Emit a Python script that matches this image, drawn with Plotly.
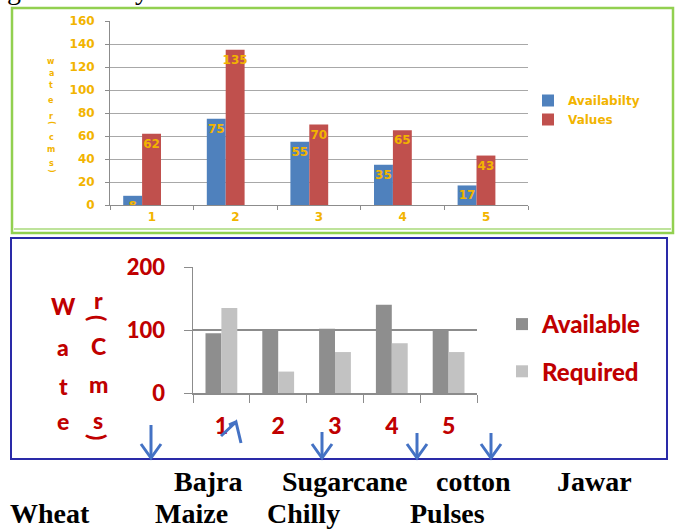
import plotly.graph_objects as go

W, H = 683, 532


def px(x):
    return x / W


def py(y):
    return 1 - y / H


# ---------------- data ----------------
top_categories = ["1", "2", "3", "4", "5"]
top_availability = [8, 75, 55, 35, 17]
top_values = [62, 135, 70, 65, 43]
top_series_names = ["Availabilty", "Values"]
top_yticks = [0, 20, 40, 60, 80, 100, 120, 140, 160]

bottom_categories = ["1", "2", "3", "4", "5"]
bottom_available = [95, 100, 102, 140, 100]
bottom_required = [135, 34, 65, 79, 65]
bottom_series_names = ["Available", "Required"]
bottom_yticks = [0, 100, 200]

crop_row1 = ["Bajra", "Sugarcane", "cotton", "Jawar"]
crop_row2 = ["Wheat", "Maize", "Chilly", "Pulses"]
ytitle_col1 = ["W", "a", "t", "e"]
ytitle_col2 = ["r", "(", "C", "m", "s", ")"]
top_ytitle = ["w", "a", "t", "e", "r", "(", "c", "m", "s", ")"]

# ---------------- styles ----------------
GOLD = "#F2B400"
DRED = "#C00000"
BLUE = "#4F81BD"
RED = "#C0504D"
DGRAY = "#8E8E8E"
LGRAY = "#C2C2C2"
AXIS = "#8C8C8C"
ARROW = "#4472C4"
RFONT = dict(family="Lato", color=DRED, weight=900)

fig = go.Figure()

# top chart bars
fig.add_trace(go.Bar(
    x=top_categories, y=top_availability, name=top_series_names[0],
    marker=dict(color=BLUE, line=dict(width=0)),
    width=0.226, offset=-0.342,
    text=top_availability, textposition="inside", insidetextanchor="end",
    constraintext="none", textangle=0,
    textfont=dict(family="DejaVu Sans", size=12, color=GOLD, weight="bold"),
    xaxis="x", yaxis="y", legend="legend", legendgroup="a",
))
fig.add_trace(go.Bar(
    x=top_categories, y=top_values, name=top_series_names[1],
    marker=dict(color=RED, line=dict(width=0)),
    width=0.226, offset=-0.116,
    text=top_values, textposition="inside", insidetextanchor="end",
    constraintext="none", textangle=0,
    textfont=dict(family="DejaVu Sans", size=12, color=GOLD, weight="bold"),
    xaxis="x", yaxis="y", legend="legend", legendgroup="b",
))

# bottom chart bars
fig.add_trace(go.Bar(
    x=bottom_categories, y=bottom_available, name=bottom_series_names[0],
    marker=dict(color=DGRAY, line=dict(width=0)),
    width=0.28, offset=-0.28,
    xaxis="x2", yaxis="y2", legend="legend2", legendgroup="c",
))
fig.add_trace(go.Bar(
    x=bottom_categories, y=bottom_required, name=bottom_series_names[1],
    marker=dict(color=LGRAY, line=dict(width=0)),
    width=0.28, offset=0.0,
    xaxis="x2", yaxis="y2", legend="legend2", legendgroup="d",
))

shapes = []
# green frame around top chart
shapes.append(dict(type="rect", xref="paper", yref="paper",
                   x0=px(12), x1=px(673), y0=py(233), y1=py(8),
                   line=dict(color="#92D050", width=2.5)))
shapes.append(dict(type="line", xref="paper", yref="paper",
                   x0=px(14), x1=px(671), y0=py(229), y1=py(229),
                   line=dict(color="#A9DA7A", width=1.5)))
# blue frame around bottom chart
shapes.append(dict(type="rect", xref="paper", yref="paper",
                   x0=px(11), x1=px(667), y0=py(459), y1=py(238),
                   line=dict(color="#2A2AA8", width=2)))


def ppath(points):
    s = ""
    for i, (x, y) in enumerate(points):
        s += ("M" if i == 0 else "L") + f" {px(x):.5f} {py(y):.5f} "
    return s


# hand-drawn arrows
for ax, top in [(151, 425), (322, 432), (417, 433), (491, 433)]:
    tip = 458
    shapes.append(dict(type="path", xref="paper", yref="paper",
                       path=ppath([(ax, top), (ax, tip)]),
                       line=dict(color=ARROW, width=3)))
    shapes.append(dict(type="path", xref="paper", yref="paper",
                       path=ppath([(ax - 10, tip - 14), (ax, tip), (ax + 10, tip - 14)]),
                       line=dict(color=ARROW, width=3)))
shapes.append(dict(type="path", xref="paper", yref="paper",
                   path=ppath([(221, 436), (236, 422), (241, 443)]),
                   line=dict(color=ARROW, width=3)))
shapes.append(dict(type="path", xref="paper", yref="paper",
                   path=ppath([(229, 425), (236, 422)]),
                   line=dict(color=ARROW, width=3)))

annotations = []
# stacked letters of top y title
top_title_y = [62, 73, 86, 100, 116, 123, 137, 149, 163, 171]
for ch, yy in zip(top_ytitle, top_title_y):
    ang = 90 if ch in "()" else 0
    annotations.append(dict(text=ch, x=px(51), y=py(yy), xref="paper", yref="paper",
                            showarrow=False, xanchor="center", yanchor="middle",
                            textangle=ang,
                            font=dict(family="DejaVu Sans", size=8, color=GOLD, weight="bold")))
# stacked letters of bottom y title
for ch, yy in zip(ytitle_col1, [306, 347, 386, 421]):
    annotations.append(dict(text=ch, x=px(63), y=py(yy), xref="paper", yref="paper",
                            showarrow=False, xanchor="center", yanchor="middle",
                            font=dict(size=23, **RFONT)))
for ch, yy in zip(ytitle_col2, [300, 318, 346, 384, 420, 437]):
    ang = 90 if ch in "()" else 0
    annotations.append(dict(text=ch, x=px(98), y=py(yy), xref="paper", yref="paper",
                            showarrow=False, xanchor="center", yanchor="middle",
                            textangle=ang,
                            font=dict(size=23, **RFONT)))
# crop names below
for name, xx in zip(crop_row1, [208, 345, 473, 594]):
    annotations.append(dict(text=name, x=px(xx), y=py(481), xref="paper", yref="paper",
                            showarrow=False, xanchor="center", yanchor="middle",
                            font=dict(family="Liberation Serif", size=28, color="black", weight="bold")))
for name, xx in zip(crop_row2, [50, 191, 303, 447]):
    annotations.append(dict(text=name, x=px(xx), y=py(513), xref="paper", yref="paper",
                            showarrow=False, xanchor="center", yanchor="middle",
                            font=dict(family="Liberation Serif", size=28, color="black", weight="bold")))
# cut-off text at very top of page (only its descenders show, as in the scan)
for ch, xx in [("g", 14), ("y", 142)]:
    annotations.append(dict(text=ch, x=px(xx), y=py(-11), xref="paper", yref="paper",
                            showarrow=False, xanchor="center", yanchor="middle",
                            font=dict(family="Liberation Serif", size=28, color="black")))

fig.update_layout(
    width=W, height=H,
    margin=dict(l=0, r=0, t=0, b=0, autoexpand=False),
    paper_bgcolor="white", plot_bgcolor="white",
    barmode="overlay", hovermode=False,
    shapes=shapes, annotations=annotations,
    xaxis=dict(domain=[px(110), px(528)], anchor="y", type="category",
               tickson="boundaries", ticks="outside", ticklen=4, tickcolor=AXIS,
               showline=True, linecolor=AXIS, linewidth=1, showgrid=False,
               tickfont=dict(family="DejaVu Sans", size=12, color=GOLD, weight="bold"),
               ticklabelstandoff=1),
    yaxis=dict(domain=[py(205), py(21)], anchor="x", range=[0, 160],
               tickvals=top_yticks, ticks="outside", ticklen=4, tickcolor=AXIS,
               showline=True, linecolor=AXIS, linewidth=1, zeroline=False,
               showgrid=True, gridcolor="#A8A8A8", gridwidth=1,
               tickfont=dict(family="DejaVu Sans", size=12, color=GOLD, weight="bold"),
               ticklabelstandoff=8),
    xaxis2=dict(domain=[px(193), px(477)], anchor="y2", type="category",
                tickson="boundaries", ticks="outside", ticklen=8, tickcolor=AXIS,
                showline=True, linecolor=AXIS, linewidth=1.5, showgrid=False,
                tickfont=dict(size=23, **RFONT),
                ticklabelstandoff=12),
    yaxis2=dict(domain=[py(393), py(267)], anchor="x2", range=[0, 200],
                tickvals=bottom_yticks, ticks="outside", ticklen=8, tickcolor=AXIS,
                showline=True, linecolor=AXIS, linewidth=1.5, zeroline=False,
                showgrid=True, gridcolor="#8C8C8C", gridwidth=1.5,
                tickfont=dict(size=22, **RFONT),
                ticklabelstandoff=14),
    legend=dict(x=px(528), y=py(86), xanchor="left", yanchor="top",
                bgcolor="rgba(0,0,0,0)", traceorder="normal", tracegroupgap=0,
                itemclick=False, itemdoubleclick=False,
                font=dict(family="DejaVu Sans", size=12, color=GOLD, weight="bold")),
    legend2=dict(x=px(502), y=py(302), xanchor="left", yanchor="top",
                 bgcolor="rgba(0,0,0,0)", traceorder="grouped", tracegroupgap=13,
                 itemclick=False, itemdoubleclick=False,
                 font=dict(size=24, **RFONT)),
    showlegend=True,
)

fig.write_html(
    "out.html",
    config={"displayModeBar": False, "staticPlot": True},
    post_script="document.body.style.margin='0';document.body.style.padding='0';"
                "document.body.style.overflow='hidden';",
)
